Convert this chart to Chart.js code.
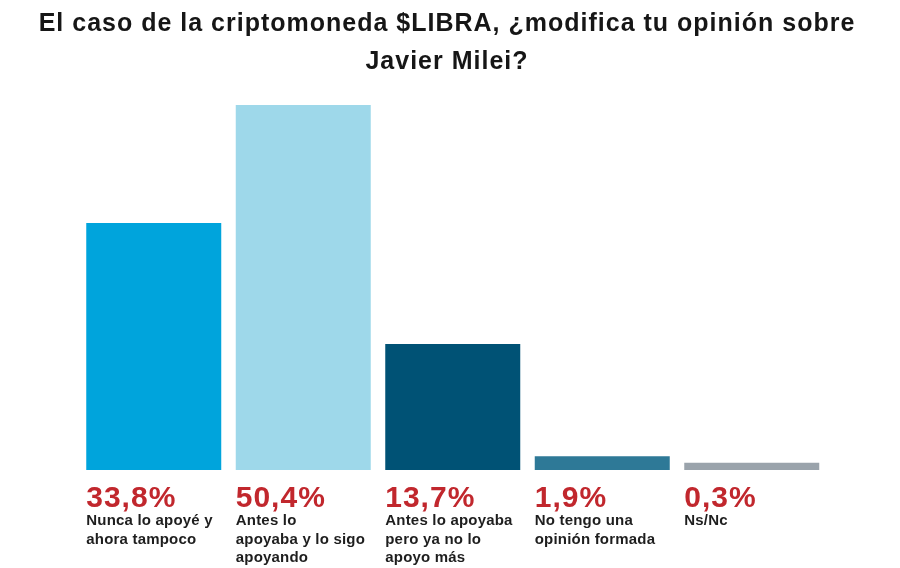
<!DOCTYPE html>
<html>
<head>
<meta charset="utf-8">
<script src="https://cdn.jsdelivr.net/npm/chart.js@4/dist/chart.umd.min.js"></script>
<style>
  html, body { margin: 0; padding: 0; background: #ffffff; }
  #wrap { position: relative; width: 900px; height: 568px; overflow: hidden; }
  #c { position: absolute; left: 0; top: 0; }
  #title {
    position: absolute; left: 0; top: 3px; width: 894px;
    text-align: center; font-family: "Liberation Sans", Arial, sans-serif;
    font-weight: bold; font-size: 25px; line-height: 38px; color: #161616;
    letter-spacing: 1px;
  }
</style>
</head>
<body>
<div id="wrap">
  <canvas id="c" width="900" height="568"></canvas>
  <div id="title">El caso de la criptomoneda $LIBRA, ¿modifica tu opinión sobre<br>Javier Milei?</div>
</div>
<script>
// ---- data ----
const categories = [
  ["Nunca lo apoyé y", "ahora tampoco"],
  ["Antes lo", "apoyaba y lo sigo", "apoyando"],
  ["Antes lo apoyaba", "pero ya no lo", "apoyo más"],
  ["No tengo una", "opinión formada"],
  ["Ns/Nc"]
];
// printed percentages
const percentages = [33.8, 50.4, 13.7, 1.9, 0.3];
// bar lengths as drawn in the picture (same units)
const barLengths = [34.1, 50.4, 17.4, 1.9, 1.0];
const barColors = ["#00a4dc", "#9ed8ea", "#005275", "#2e7997", "#9aa3ab"];

const fmt = v => v.toFixed(1).replace(".", ",") + "%";

const labelPlugin = {
  id: "belowLabels",
  afterDatasetsDraw(chart) {
    const ctx = chart.ctx;
    const meta = chart.getDatasetMeta(0);
    const base = chart.scales.y.getPixelForValue(0);
    ctx.save();
    ctx.textAlign = "left";
    ctx.textBaseline = "alphabetic";
    meta.data.forEach((bar, i) => {
      const left = bar.x - bar.width / 2;
      ctx.fillStyle = "#c1272d";
      ctx.font = "bold 30px 'Liberation Sans', Arial, sans-serif";
      ctx.letterSpacing = "1px";
      ctx.fillText(fmt(percentages[i]), left, base + 37);
      ctx.fillStyle = "#1e1e1e";
      ctx.font = "bold 15px 'Liberation Sans', Arial, sans-serif";
      ctx.letterSpacing = "0.2px";
      categories[i].forEach((line, j) => {
        ctx.fillText(line, left, base + 55 + j * 18.5);
      });
    });
    ctx.restore();
  }
};

new Chart(document.getElementById("c"), {
  type: "bar",
  data: {
    labels: categories,
    datasets: [{
      data: barLengths,
      backgroundColor: barColors,
      borderWidth: 0,
      barPercentage: 0.903,
      categoryPercentage: 1.0
    }]
  },
  options: {
    responsive: false,
    animation: false,
    layout: { padding: { left: 79, right: 73.5, top: 105, bottom: 98 } },
    plugins: { legend: { display: false }, title: { display: false }, tooltip: { enabled: false } },
    scales: {
      x: { display: false },
      y: { display: false, min: 0, max: 50.4 }
    }
  },
  plugins: [labelPlugin]
});
</script>
</body>
</html>
